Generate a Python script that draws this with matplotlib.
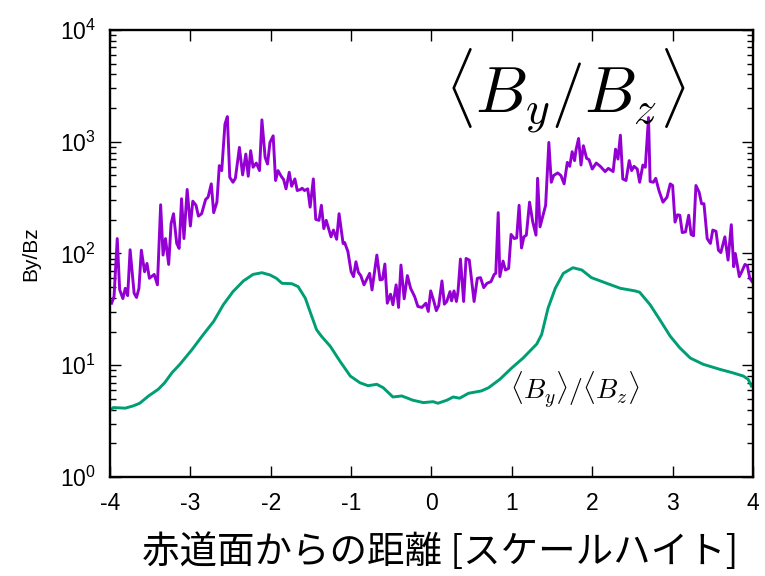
#!/usr/bin/env python3
"""By/Bz profile vs distance from the equatorial plane (log scale)."""
import matplotlib
matplotlib.use("Agg")
import matplotlib.pyplot as plt
from matplotlib.ticker import LogLocator

# <By/Bz> : local ratio averaged, noisy curve
ratio_x = [
    -3.98, -3.95, -3.91, -3.88, -3.84, -3.81, -3.78, -3.75, -3.70, -3.67,
    -3.64, -3.61, -3.57, -3.54, -3.51, -3.45, -3.41, -3.37, -3.34, -3.31,
    -3.27, -3.24, -3.21, -3.17, -3.14, -3.11, -3.08, -3.04, -3.00, -2.97,
    -2.93, -2.90, -2.86, -2.81, -2.78, -2.74, -2.71, -2.67, -2.64, -2.61,
    -2.57, -2.54, -2.51, -2.47, -2.44, -2.39, -2.35, -2.31, -2.28, -2.25,
    -2.22, -2.18, -2.14, -2.11, -2.07, -2.04, -2.01, -1.97, -1.94, -1.91,
    -1.87, -1.84, -1.81, -1.77, -1.74, -1.70, -1.67, -1.63, -1.61, -1.58,
    -1.54, -1.51, -1.47, -1.44, -1.40, -1.37, -1.34, -1.31, -1.28, -1.25,
    -1.22, -1.18, -1.15, -1.10, -1.08, -1.04, -1.00, -0.97, -0.94, -0.91,
    -0.88, -0.84, -0.77, -0.74, -0.68, -0.64, -0.61, -0.58, -0.55, -0.51,
    -0.48, -0.44, -0.41, -0.38, -0.34, -0.30, -0.26, -0.21, -0.17, -0.12,
    -0.07, -0.04, -0.01, 0.03, 0.06, 0.09, 0.13, 0.16, 0.19, 0.23,
    0.25, 0.28, 0.31, 0.33, 0.36, 0.40, 0.43, 0.47, 0.53, 0.57,
    0.61, 0.65, 0.69, 0.74, 0.78, 0.80, 0.83, 0.85, 0.89, 0.92,
    0.96, 0.99, 1.03, 1.06, 1.09, 1.12, 1.15, 1.18, 1.22, 1.26,
    1.30, 1.32, 1.35, 1.42, 1.46, 1.49, 1.52, 1.57, 1.61, 1.65,
    1.69, 1.72, 1.75, 1.78, 1.80, 1.83, 1.86, 1.89, 1.93, 1.96,
    2.00, 2.05, 2.10, 2.16, 2.20, 2.26, 2.29, 2.32, 2.35, 2.38,
    2.42, 2.46, 2.49, 2.52, 2.56, 2.59, 2.63, 2.66, 2.70, 2.72,
    2.76, 2.79, 2.83, 2.88, 2.93, 2.97, 3.00, 3.03, 3.06, 3.09,
    3.12, 3.16, 3.20, 3.23, 3.26, 3.29, 3.33, 3.36, 3.39, 3.43,
    3.47, 3.50, 3.54, 3.57, 3.60, 3.65, 3.69, 3.73, 3.76, 3.78,
    3.83, 3.86, 3.90, 3.93, 3.96, 3.99,
]
ratio_y = [
    35.9, 41.2, 136, 47.5, 39.5, 48.8, 42.0, 108, 44.1, 40.4,
    48.8, 107, 68.7, 81.5, 60.0, 65.0, 52.4, 273, 96.8, 136,
    79.8, 185, 227, 123, 111, 309, 136, 374, 176, 294,
    270, 216, 227, 305, 319, 420, 232, 288, 611, 552,
    1435, 1680, 481, 434, 471, 890, 505, 776, 491, 832,
    591, 645, 552, 1570, 725, 632, 986, 1130, 450, 552,
    491, 459, 379, 533, 400, 465, 366, 374, 384, 366,
    379, 260, 465, 202, 198, 270, 167, 198, 167, 141,
    162, 134, 227, 123, 125, 104, 68.7, 62.1, 84.3, 67.8,
    63.4, 52.4, 66.4, 47.2, 96.8, 58.0, 58.7, 80.5, 35.9, 43.2,
    34.8, 52.4, 32.9, 78.8, 39.3, 63.4, 48.8, 41.2, 33.6, 32.9,
    35.9, 30.3, 46.3, 37.2, 30.8, 34.2, 56.8, 35.2, 37.2, 45.6,
    37.7, 46.3, 37.2, 45.6, 89.2, 37.2, 90.3, 87.3, 37.2, 60.0,
    60.8, 49.5, 54.1, 56.0, 65.0, 66.4, 232, 62.1, 85.6, 71.2,
    73.6, 148, 136, 138, 270, 112, 141, 146, 288, 191,
    146, 471, 173, 270, 986, 434, 499, 526, 499, 420,
    654, 603, 815, 678, 859, 1070, 619, 921, 710, 692,
    570, 645, 603, 541, 578, 541, 859, 700, 1145, 465,
    450, 678, 552, 603, 570, 434, 619, 591, 1645, 441,
    434, 471, 366, 288, 319, 420, 406, 191, 222, 220,
    154, 156, 220, 148, 144, 406, 354, 279, 279, 136,
    123, 162, 158, 107, 102, 141, 87.3, 181, 76.2, 100,
    62.1, 68.7, 79.8, 77.8, 60.0, 56.0,
]

# <By>/<Bz> : ratio of averages, smooth curve
mean_x = [
    -3.98, -3.96, -3.81, -3.71, -3.63, -3.52, -3.40, -3.32, -3.23, -3.13,
    -2.98, -2.84, -2.71, -2.59, -2.47, -2.34, -2.22, -2.11, -2.01, -1.93,
    -1.86, -1.74, -1.66, -1.57, -1.49, -1.43, -1.37, -1.26, -1.14, -1.01,
    -0.89, -0.79, -0.68, -0.60, -0.48, -0.37, -0.23, -0.10, 0.02, 0.08,
    0.19, 0.27, 0.35, 0.46, 0.62, 0.71, 0.85, 1.00, 1.14, 1.31,
    1.37, 1.45, 1.54, 1.64, 1.76, 1.87, 1.99, 2.18, 2.35, 2.53,
    2.59, 2.72, 2.84, 2.97, 3.09, 3.22, 3.38, 3.59, 3.75, 3.88,
    3.94, 3.98,
]
mean_y = [
    4.04, 4.18, 4.13, 4.33, 4.57, 5.31, 6.09, 6.97, 8.55, 10.2,
    13.8, 18.8, 24.7, 34.8, 45.6, 56.8, 65.0, 67.3, 64.3, 60.0,
    54.1, 53.7, 50.6, 39.8, 27.4, 20.8, 18.2, 14.8, 10.9, 8.00,
    6.97, 6.56, 6.75, 6.29, 5.20, 5.31, 4.86, 4.63, 4.72, 4.57,
    4.86, 5.20, 5.07, 5.61, 5.89, 6.29, 7.48, 9.48, 11.6, 15.5,
    18.8, 32.4, 48.8, 66.4, 74.6, 71.2, 60.8, 54.1, 48.8, 46.3,
    45.0, 34.8, 25.6, 18.2, 14.3, 11.6, 10.2, 9.18, 8.55, 8.00,
    7.48, 6.52,
]

XTICKS = [-4, -3, -2, -1, 0, 1, 2, 3, 4]
XLABEL = "赤道面からの距離 [スケールハイト]"
YLABEL = "By/Bz"

PURPLE = "#9400D3"
GREEN = "#009E73"

plt.rcParams["font.family"] = ["Liberation Sans", "Noto Sans CJK JP", "DejaVu Sans"]
plt.rcParams["mathtext.fontset"] = "cm"

fig = plt.figure(figsize=(7.65, 5.76), dpi=100)
ax = fig.add_axes([0.1438, 0.1719, 0.8405, 0.776])

ax.plot(ratio_x, ratio_y, color=PURPLE, lw=2.1)
ax.plot(mean_x, mean_y, color=GREEN, lw=2.1)

ax.set_yscale("log")
ax.set_xlim(-4, 4)
ax.set_ylim(1, 1e4)
ax.set_xticks(XTICKS)
ax.set_xticklabels([str(t) for t in XTICKS])
ax.yaxis.set_major_locator(LogLocator(base=10, numticks=10))
ax.yaxis.set_minor_locator(LogLocator(base=10, subs=range(2, 10), numticks=10))

ax.tick_params(which="both", direction="in", top=True, right=True,
               labelsize=16.5, width=1.0, color="black")
ax.tick_params(which="major", length=8)
ax.tick_params(axis="x", which="major", pad=11)
ax.tick_params(axis="y", which="major", pad=10)
ax.tick_params(which="minor", length=4)
for sp in ax.spines.values():
    sp.set_linewidth(1.7)

ax.set_xlabel(XLABEL, fontsize=27, family=["Noto Sans CJK JP", "DejaVu Sans"])
ax.xaxis.set_label_coords(0.513, -0.125)
ax.set_ylabel(YLABEL, fontsize=15, labelpad=14)

ax.text(0.708, 0.862, r"$\langle B_y/B_z\rangle$", transform=ax.transAxes,
        fontsize=47, ha="center", va="center")
ax.text(1.785, 6.1, r"$\langle B_y\rangle/\langle B_z\rangle$",
        fontsize=20, ha="center", va="center")

fig.savefig("out.png", dpi=100)
